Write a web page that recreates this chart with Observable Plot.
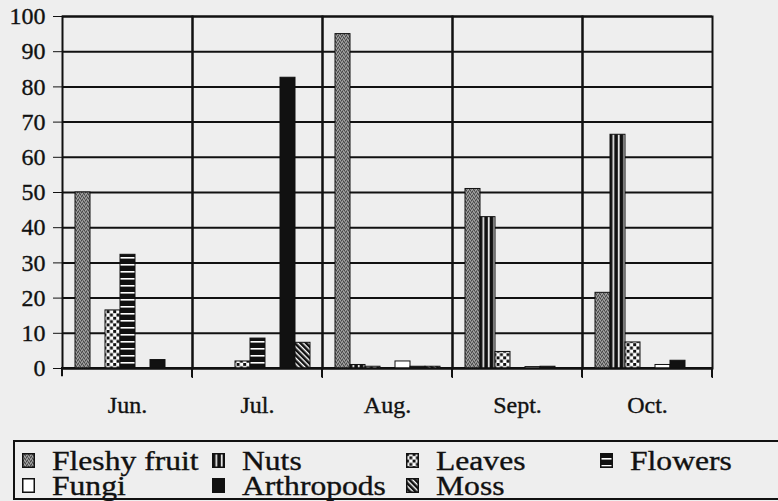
<!DOCTYPE html>
<html><head><meta charset="utf-8">
<script src="https://cdn.jsdelivr.net/npm/d3@7"></script>
<script src="https://cdn.jsdelivr.net/npm/@observablehq/plot@0.6"></script>
<style>
html,body{margin:0;padding:0;background:#eeeeee;}
body{width:778px;height:501px;overflow:hidden;position:relative;font-family:"Liberation Serif","DejaVu Serif",serif;}
#chart{position:absolute;left:0;top:0;}
#chart svg text{font-family:"Liberation Serif","DejaVu Serif",serif !important;stroke:#111;stroke-width:0.35px;}
#legend{position:absolute;left:13px;top:440px;width:800px;height:60px;border:2px solid #111;box-sizing:border-box;}
.sw{position:absolute;width:13px;height:15px;}
.lt{position:absolute;font-size:27px;line-height:24px;color:#111;white-space:nowrap;transform-origin:0 50%;transform:scaleX(1.17);-webkit-text-stroke:0.35px #111;}
</style></head><body>
<svg width="0" height="0" style="position:absolute">
<defs>
<pattern id="p-fruit" width="4" height="4" patternUnits="userSpaceOnUse">
<rect width="4" height="4" fill="#7c7c7c"/>
<rect x="0" y="0" width="1" height="1" fill="#474747"/><rect x="2" y="1" width="1" height="1" fill="#474747"/>
<rect x="1" y="3" width="1" height="1" fill="#474747"/><rect x="3" y="2" width="1" height="1" fill="#474747"/>
<rect x="1" y="1" width="1" height="1" fill="#a8a8a8"/><rect x="3" y="0" width="1" height="1" fill="#a8a8a8"/>
<rect x="0" y="2" width="1" height="1" fill="#a8a8a8"/><rect x="2" y="3" width="1" height="1" fill="#a8a8a8"/>
</pattern>
<pattern id="p-nuts" width="5.5" height="4" patternUnits="userSpaceOnUse">
<rect width="5.5" height="4" fill="#111"/><rect x="3.5" y="0" width="1.6" height="4" fill="#fff"/>
</pattern>
<pattern id="p-leaves" width="6.6" height="6.6" patternUnits="userSpaceOnUse">
<rect width="6.6" height="6.6" fill="#fff"/><rect width="3" height="3" fill="#111"/><rect x="3.3" y="3.3" width="3" height="3" fill="#111"/>
</pattern>
<pattern id="p-flowers" width="4" height="7" patternUnits="userSpaceOnUse">
<rect width="4" height="7" fill="#111"/><rect x="0" y="5" width="4" height="1.6" fill="#fff"/>
</pattern>
<pattern id="p-moss" width="4" height="4" patternUnits="userSpaceOnUse" patternTransform="rotate(45)">
<rect width="4" height="4" fill="#111"/><rect x="0" y="0" width="4" height="1.4" fill="#fff"/>
</pattern>
</defs>
</svg>
<div id="chart"></div>
<div id="legend"></div>
<script>
const months = ["Jun.", "Jul.", "Aug.", "Sept.", "Oct."];
const series = ["Fleshy fruit", "Nuts", "Leaves", "Flowers", "Fungi", "Arthropods", "Moss"];
const fleshyFruit = [50, 0, 95, 51, 21.5];
const nuts        = [0, 0, 1, 43, 66.4];
const leaves      = [16.5, 2, 0.5, 4.7, 7.4];
const flowers     = [32.3, 8.5, 0, 0, 0];
const fungi       = [0, 0, 2, 0.4, 1];
const arthropods  = [2.4, 82.6, 0.5, 0.5, 2.2];
const moss        = [0, 7.3, 0.5, 0, 0];
const yTicks = [0, 10, 20, 30, 40, 50, 60, 70, 80, 90, 100];
const fills = ["url(#p-fruit)", "url(#p-nuts)", "url(#p-leaves)", "url(#p-flowers)", "#ffffff", "#111111", "url(#p-moss)"];

const seriesValues = [fleshyFruit, nuts, leaves, flowers, fungi, arthropods, moss];
const data = months.flatMap((m, i) => series.map((s, j) => ({month: m, series: s, value: seriesValues[j][i]})));

const W = 778, H = 440, ML = 61, MR = 65, MT = 16, MB = H - 368;
const facetW = (W - ML - MR) / months.length;
const extH = 9;

const chart = Plot.plot({
  width: W, height: H,
  marginLeft: ML, marginRight: MR, marginTop: MT, marginBottom: MB,
  style: {background: "transparent", fontFamily: "Liberation Serif, serif", fontSize: "24px", color: "#111"},
  facet: {data, x: "month"},
  fx: {domain: months, padding: 0, label: null, axis: "bottom", tickSize: 0, tickPadding: 27},
  x: {domain: series, axis: null, paddingInner: 0, paddingOuter: 0.76},
  y: {domain: [0, 100], ticks: yTicks, tickSize: 9, tickPadding: 8, label: null, tickFormat: d => String(d)},
  color: {type: "ordinal", domain: series, range: fills},
  marks: [
    Plot.ruleY(yTicks, {stroke: "#111", strokeWidth: 2}),
    Plot.rect([0], {y1: 0, y2: -extH * 100 / (H - MT - MB), fill: "none", stroke: "#111", strokeWidth: 2,
      strokeDasharray: `${facetW + extH} ${facetW} ${extH}`}),
    Plot.barY(data, {x: "series", y: "value", fill: "series", stroke: "#111", strokeWidth: 1}),
    Plot.frame({stroke: "#111", strokeWidth: 2})
  ]
});
chart.querySelectorAll("text").forEach(t => { t.style.fontSize = "24px"; });
document.getElementById("chart").appendChild(chart);

// legend
const legend = document.getElementById("legend");
const colX = [7, 197, 391, 585];
const rowY = [11, 36];
const rowTextTop = [7, 32];
series.forEach((s, j) => {
  const col = j % 4, row = Math.floor(j / 4);
  const sw = document.createElementNS("http://www.w3.org/2000/svg", "svg");
  sw.setAttribute("class", "sw");
  sw.setAttribute("width", 13); sw.setAttribute("height", 15);
  sw.style.left = colX[col] + "px"; sw.style.top = rowY[row] + "px";
  const r = document.createElementNS("http://www.w3.org/2000/svg", "rect");
  r.setAttribute("x", 0.75); r.setAttribute("y", 0.75); r.setAttribute("width", 11.5); r.setAttribute("height", 13.5);
  r.setAttribute("fill", fills[j]); r.setAttribute("stroke", "#111"); r.setAttribute("stroke-width", 1.5);
  sw.appendChild(r);
  legend.appendChild(sw);
  const t = document.createElement("div");
  t.className = "lt";
  t.textContent = s;
  t.style.left = (colX[col] + 30) + "px"; t.style.top = rowTextTop[row] + "px";
  legend.appendChild(t);
});
</script>
</body></html>
